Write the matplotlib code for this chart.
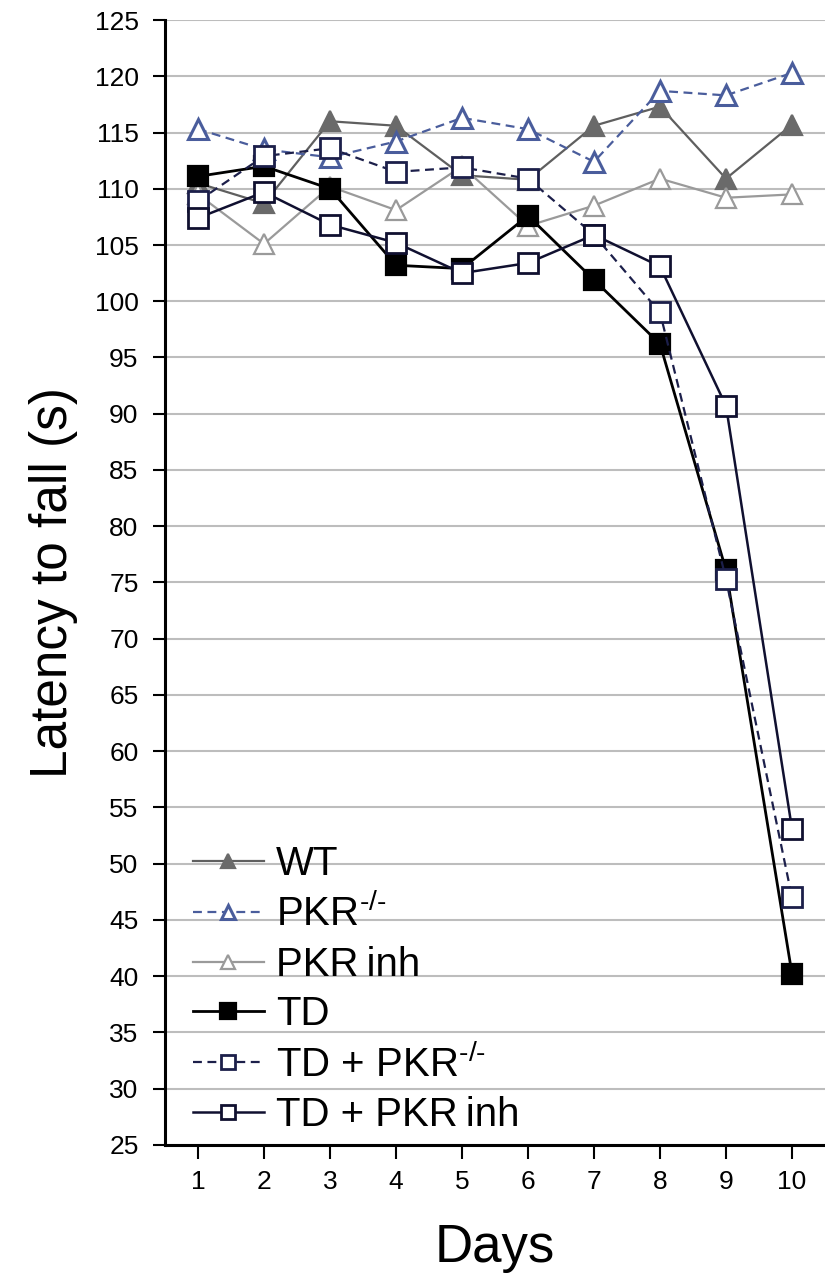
import matplotlib
matplotlib.use("Agg")
import matplotlib.pyplot as plt

plt.rcParams['font.family'] = ['Liberation Sans', 'DejaVu Sans']
plt.rcParams['mathtext.default'] = 'regular'

days = [1, 2, 3, 4, 5, 6, 7, 8, 9, 10]

wt = [110.5, 108.7, 116.0, 115.6, 111.2, 110.8, 115.6, 117.3, 110.9, 115.7]
pkr_ko = [115.3, 113.5, 112.8, 114.2, 116.3, 115.3, 112.4, 118.7, 118.3, 120.3]
pkr_inh = [109.5, 105.1, 110.2, 108.1, 112.0, 106.7, 108.5, 110.9, 109.2, 109.5]
td = [111.1, 112.0, 110.0, 103.2, 102.9, 107.6, 101.9, 96.2, 76.1, 40.2]
td_pkr_ko = [108.9, 112.9, 113.6, 111.5, 111.9, 110.9, 105.9, 99.0, 75.3, 47.0]
td_pkr_inh = [107.4, 109.7, 106.8, 105.2, 102.5, 103.4, 105.9, 103.1, 90.7, 53.1]

ko = '$^{\u2010/\u2010}$'
labels = ['WT', 'PKR' + ko, 'PKR\u2009inh', 'TD', 'TD + PKR' + ko, 'TD + PKR\u2009inh']

fig = plt.figure(figsize=(8.25, 12.83), dpi=100)
ax = fig.add_axes([0.2, 0.1076, 0.8, 0.8768])

ms = 14
mew = 1.6
lw = 1.6

ax.plot(days, wt, '-', color='#5f5f5f', lw=lw, marker='^', ms=ms,
        mfc='#6a6a6a', mec='#6a6a6a', mew=mew, label=labels[0], zorder=3)
ax.plot(days, pkr_ko, '--', color='#4a5d9c', lw=lw, marker='^', ms=ms,
        mfc='white', mec='#4a5d9c', mew=mew + 0.6, label=labels[1], zorder=3,
        dashes=(4, 2.5))
ax.plot(days, pkr_inh, '-', color='#9a9a9a', lw=lw, marker='^', ms=ms,
        mfc='white', mec='#9a9a9a', mew=mew, label=labels[2], zorder=3)
ax.plot(days, td, '-', color='black', lw=lw + 0.4, marker='s', ms=ms + 1,
        mfc='black', mec='black', mew=mew, label=labels[3], zorder=4)
ax.plot(days, td_pkr_ko, '--', color='#1c1f4a', lw=lw, marker='s', ms=ms,
        mfc='white', mec='#1c1f4a', mew=mew + 0.4, label=labels[4], zorder=4,
        dashes=(4, 2.5))
ax.plot(days, td_pkr_inh, '-', color='#101030', lw=lw + 0.2, marker='s', ms=ms,
        mfc='white', mec='#101030', mew=mew + 0.4, label=labels[5], zorder=4)

ax.set_xlim(0.5, 10.5)
ax.set_ylim(25, 125)
ax.set_xticks(days)
ax.set_yticks(range(25, 126, 5))
ax.yaxis.grid(True, color='#bdbdbd', lw=1.5)
ax.set_axisbelow(True)

for s in ['top', 'right']:
    ax.spines[s].set_visible(False)
for s in ['left', 'bottom']:
    ax.spines[s].set_linewidth(2.2)

ax.tick_params(axis='y', labelsize=19, length=9, width=1.5, pad=10)
ax.tick_params(axis='x', labelsize=19, length=10, width=1.5, pad=8)

ax.set_ylabel('Latency to fall (s)', fontsize=37, labelpad=12)
ax.set_xlabel('Days', fontsize=38, labelpad=21)

leg = ax.legend(loc='upper left', bbox_to_anchor=(0.0, 0.292), frameon=False,
                fontsize=29, markerscale=0.75, handlelength=1.75, handletextpad=0.3,
                labelspacing=0.28, borderaxespad=0.3)

fig.savefig('out.png', dpi=100)
